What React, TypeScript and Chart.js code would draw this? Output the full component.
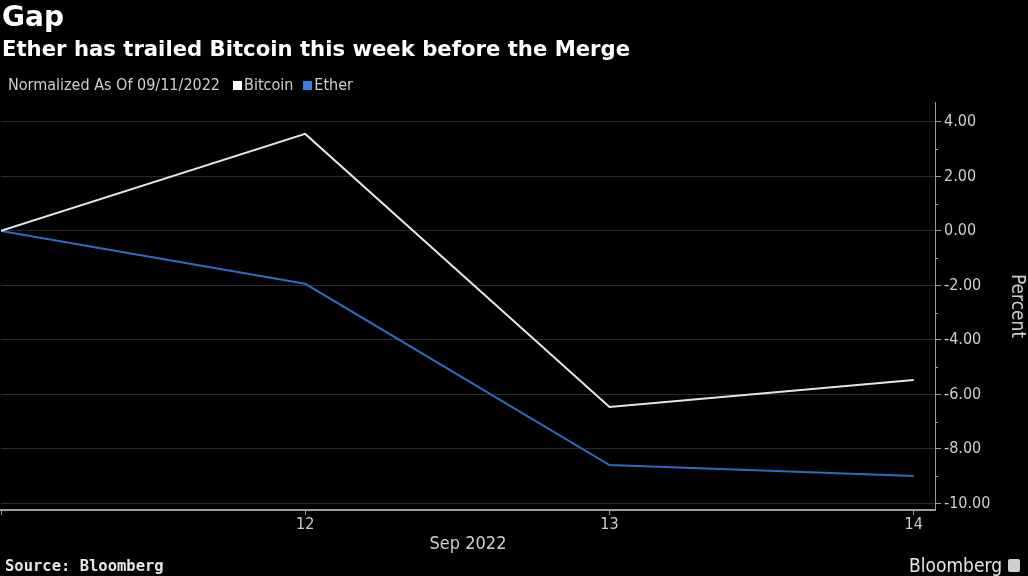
import React, { useEffect, useRef } from "react";
import { Chart, registerables } from "chart.js";

Chart.register(...registerables);

const dates = [11, 12, 13, 14];
const tickLabels: Record<number, string> = { 12: "12", 13: "13", 14: "14" };
const bitcoin = [0, 3.56, -6.46, -5.47];
const ether = [0, -1.94, -8.59, -8.99];
const yMajorTicks = [4, 2, 0, -2, -4, -6, -8, -10];
const yMinorTicks = [3, 1, -1, -3, -5, -7, -9];

const TICK_FONT = "'DejaVu Sans Condensed', 'DejaVu Sans', sans-serif";

const minorTickPlugin = {
  id: "minorTicks",
  afterDraw(chart: any) {
    const y = chart.scales.y;
    const ctx = chart.ctx;
    ctx.save();
    ctx.strokeStyle = "#9a9a9a";
    ctx.lineWidth = 1;
    for (const v of yMinorTicks) {
      const py = Math.round(y.getPixelForValue(v)) + 0.5;
      ctx.beginPath();
      ctx.moveTo(y.left, py);
      ctx.lineTo(y.left + 3, py);
      ctx.stroke();
    }
    ctx.restore();
  },
};

export default function App() {
  const ref = useRef<HTMLCanvasElement>(null);
  useEffect(() => {
    const chart = new Chart(ref.current!, {
      type: "line",
      data: {
        datasets: [
          {
            label: "Bitcoin",
            data: dates.map((d, i) => ({ x: d, y: bitcoin[i] })),
            borderColor: "#e6e6e6",
            borderWidth: 2,
            pointRadius: 0,
            tension: 0,
          },
          {
            label: "Ether",
            data: dates.map((d, i) => ({ x: d, y: ether[i] })),
            borderColor: "#2e6bc2",
            borderWidth: 2,
            pointRadius: 0,
            tension: 0,
          },
        ],
      },
      options: {
        animation: false,
        responsive: false,
        maintainAspectRatio: false,
        layout: { padding: { top: 102, left: 1, right: 0, bottom: 0 } },
        plugins: { legend: { display: false }, tooltip: { enabled: false } },
        scales: {
          x: {
            type: "linear",
            min: 11,
            max: 14.07,
            afterBuildTicks: (s: any) => {
              s.ticks = dates.map((d) => ({ value: d }));
            },
            afterFit: (s: any) => {
              s.height = 66;
            },
            ticks: {
              callback: (v: any) => tickLabels[v] ?? "",
              color: "#cfcfcf",
              font: { family: TICK_FONT, size: 16 },
              padding: 0,
              maxRotation: 0,
              autoSkip: false,
            },
            grid: {
              drawOnChartArea: false,
              color: "#9a9a9a",
              tickLength: 5,
            },
            border: { color: "#9a9a9a", width: 2 },
            title: {
              display: true,
              text: "Sep 2022",
              color: "#cfcfcf",
              font: { family: TICK_FONT, size: 18 },
              padding: { top: 0, bottom: 21 },
            },
          },
          y: {
            position: "right",
            min: -10.24,
            max: 4.73,
            afterBuildTicks: (s: any) => {
              s.ticks = yMajorTicks.map((v) => ({ value: v }));
            },
            afterFit: (s: any) => {
              s.width = 93;
            },
            ticks: {
              callback: (v: any) => Number(v).toFixed(2),
              color: "#cfcfcf",
              font: { family: TICK_FONT, size: 16 },
              padding: 3,
            },
            grid: {
              color: "rgba(255,255,255,0.17)",
              tickColor: "#9a9a9a",
              tickLength: 6,
            },
            border: { color: "#9a9a9a", width: 1 },
            title: {
              display: true,
              text: "Percent",
              color: "#cfcfcf",
              font: { family: TICK_FONT, size: 19 },
              padding: { top: 0, bottom: 2 },
            },
          },
        },
      },
      plugins: [minorTickPlugin],
    } as any);
    return () => chart.destroy();
  }, []);

  return (
    <div
      style={{
        position: "fixed",
        left: 0,
        top: 0,
        width: 1028,
        height: 576,
        background: "#000",
        overflow: "hidden",
        fontFamily: "'DejaVu Sans', sans-serif",
      }}
    >
      <canvas
        ref={ref}
        width={1028}
        height={576}
        style={{ position: "absolute", left: 0, top: 0, width: 1028, height: 576 }}
      />
      <div
        style={{
          position: "absolute",
          left: 2,
          top: 0,
          color: "#fff",
          fontWeight: "bold",
          fontSize: 28,
          lineHeight: "34px",
        }}
      >
        Gap
      </div>
      <div
        style={{
          position: "absolute",
          left: 2,
          top: 35,
          color: "#fff",
          fontWeight: "bold",
          fontSize: 21.2,
          lineHeight: "28px",
          whiteSpace: "nowrap",
        }}
      >
        Ether has trailed Bitcoin this week before the Merge
      </div>
      <div
        style={{
          position: "absolute",
          left: 8,
          top: 75,
          color: "#cfcfcf",
          fontSize: 16,
          lineHeight: "20px",
          fontFamily: TICK_FONT,
          whiteSpace: "nowrap",
          display: "flex",
          alignItems: "center",
        }}
      >
        <span>Normalized As Of 09/11/2022</span>
        <span style={{ display: "inline-block", width: 9, height: 9, background: "#fff", marginLeft: 13, marginRight: 2 }} />
        <span>Bitcoin</span>
        <span style={{ display: "inline-block", width: 9, height: 9, background: "#3a7fdc", marginLeft: 10, marginRight: 2 }} />
        <span>Ether</span>
      </div>
      <div
        style={{
          position: "absolute",
          left: 5,
          top: 557,
          color: "#e6e6e6",
          fontWeight: "bold",
          fontSize: 15.5,
          lineHeight: "19px",
          fontFamily: "'DejaVu Sans Mono', monospace",
          whiteSpace: "nowrap",
        }}
      >
        Source: Bloomberg
      </div>
      <div
        style={{
          position: "absolute",
          right: 8,
          top: 553,
          color: "#e6e6e6",
          fontSize: 19,
          lineHeight: "24px",
          fontFamily: TICK_FONT,
          display: "flex",
          alignItems: "center",
        }}
      >
        <span>Bloomberg</span>
        <span style={{ display: "inline-block", width: 12, height: 13, background: "#cfcfcf", marginLeft: 6, borderRadius: 2 }} />
      </div>
    </div>
  );
}
